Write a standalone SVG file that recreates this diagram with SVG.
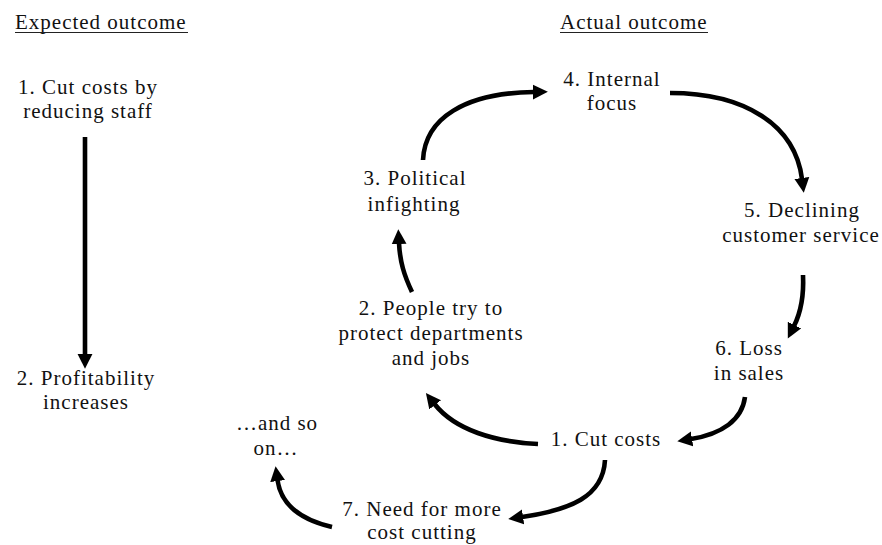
<svg xmlns="http://www.w3.org/2000/svg" width="882" height="545" viewBox="0 0 882 545">
<style>
text{font-family:"Liberation Serif","Times New Roman",serif;font-size:21px;letter-spacing:1px;fill:#111}
.m{text-anchor:middle}
.c{fill:none;stroke:#000;stroke-width:4.6}
.u{stroke:#222;stroke-width:1.2}
</style>
<defs>
<marker id="ah" markerUnits="userSpaceOnUse" markerWidth="16" markerHeight="16" viewBox="0 0 15 14" refX="1" refY="7" orient="auto">
<path d="M0,0 L14,7 L0,14 z" fill="#000"/>
</marker>
</defs>
<rect width="882" height="545" fill="#fff"/>
<g id="headings">
<text x="15" y="29">Expected outcome</text>
<line class="u" x1="15" y1="32.5" x2="188" y2="32.5"/>
<text x="560" y="29">Actual outcome</text>
<line class="u" x1="560" y1="32.5" x2="708" y2="32.5"/>
</g>
<g id="exp1"><text class="m" x="88" y="94">1. Cut costs by</text><text class="m" x="88" y="118">reducing staff</text></g>
<g id="exp2"><text class="m" x="86" y="385">2. Profitability</text><text class="m" x="86" y="409">increases</text></g>
<g id="act1"><text class="m" x="606" y="446">1. Cut costs</text></g>
<g id="act2"><text class="m" x="431" y="315">2. People try to</text><text class="m" x="431" y="340">protect departments</text><text class="m" x="431" y="365">and jobs</text></g>
<g id="act3"><text class="m" x="415" y="185">3. Political</text><text class="m" x="414" y="211">infighting</text></g>
<g id="act4"><text class="m" x="612" y="86">4. Internal</text><text class="m" x="612" y="110">focus</text></g>
<g id="act5"><text class="m" x="802" y="217">5. Declining</text><text class="m" x="801" y="242">customer service</text></g>
<g id="act6"><text class="m" x="749" y="355">6. Loss</text><text class="m" x="749" y="380">in sales</text></g>
<g id="act7"><text class="m" x="422" y="516">7. Need for more</text><text class="m" x="422" y="539">cost cutting</text></g>
<g id="andso"><text class="m" x="277" y="430">…and so</text><text class="m" x="276" y="455">on…</text></g>
<g id="connectors">
<path class="c" d="M85,137 L85,355" marker-end="url(#ah)"/>
<path class="c" d="M423,160 C425,118 465,93 534,92" marker-end="url(#ah)"/>
<path class="c" d="M670,93 C745,93 795,125 802,179" marker-end="url(#ah)"/>
<path class="c" d="M803,275 C804,296 801,312 794,326" marker-end="url(#ah)"/>
<path class="c" d="M745,397 C742,420 722,434 691,439" marker-end="url(#ah)"/>
<path class="c" d="M538,444 C495,442 455,430 434.5,404" marker-end="url(#ah)"/>
<path class="c" d="M412,292 C404,275 400,262 399,243" marker-end="url(#ah)"/>
<path class="c" d="M605,460 C603,497 570,510 522,517" marker-end="url(#ah)"/>
<path class="c" d="M332,527 C302,520 281,505 277.5,480" marker-end="url(#ah)"/>
</g>
</svg>
